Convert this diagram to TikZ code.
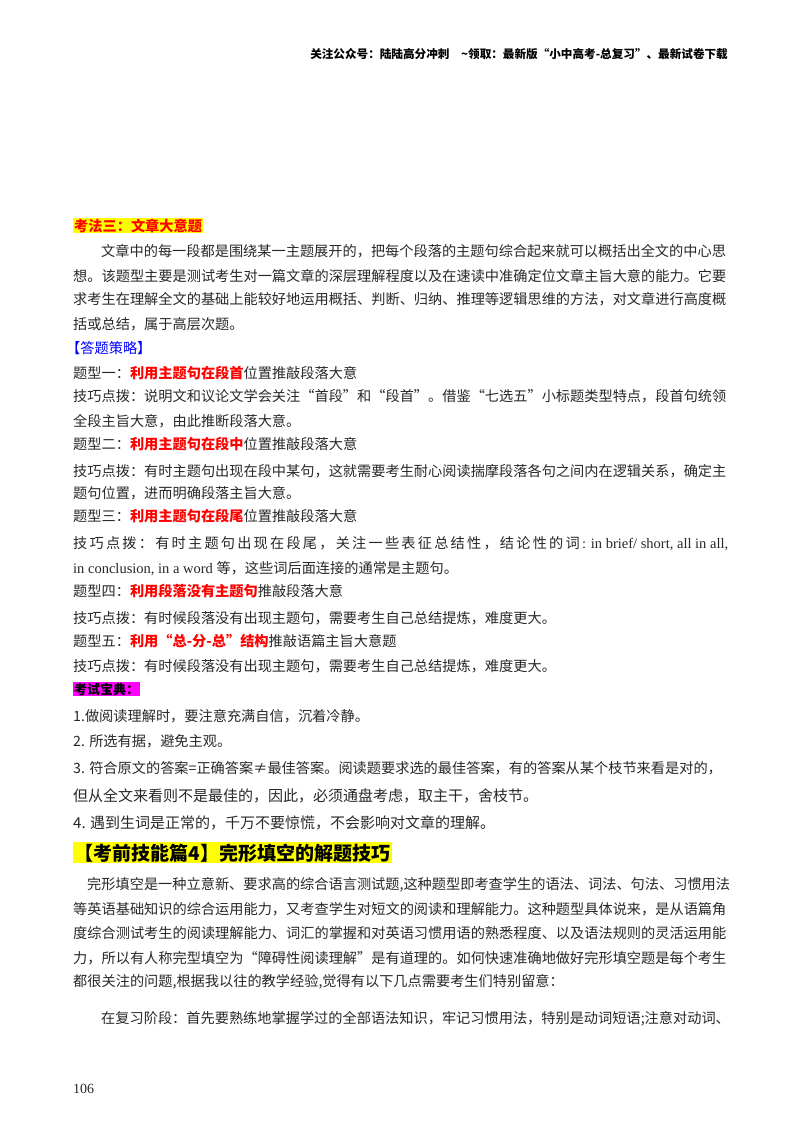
\documentclass[tikz,border=0pt]{standalone}
\usepackage{fontspec}
\setmainfont{Liberation Serif}
\newfontfamily\cjk{Noto Sans CJK SC}
\definecolor{hired}{RGB}{255,0,0}
\definecolor{hiyel}{RGB}{255,255,0}
\definecolor{himag}{RGB}{255,0,255}
\definecolor{hiblue}{RGB}{0,0,255}
\definecolor{txt}{RGB}{40,40,40}
\newcommand\R[1]{{\color{hired}\bfseries #1}}
\begin{document}
\begin{tikzpicture}[x=1pt,y=-1pt,
  body/.style={anchor=base west,inner sep=0pt,font=\cjk\fontsize{14.2}{16}\selectfont,text=txt},
  hdr/.style={anchor=base east,inner sep=0pt,font=\cjk\fontsize{11.6}{13}\selectfont\bfseries,text=black}]
\useasboundingbox[fill=white] (0,0) rectangle (800,1132);
\node[hdr] (h) at (728,59) {关注公众号：陆陆高分冲刺\quad\textasciitilde 领取：最新版“小中高考-总复习”、最新试卷下载};
\node[body,fill=hiyel,inner sep=1pt,text=hired,font=\cjk\fontsize{14.2}{16}\selectfont\bfseries] (k3) at (73,231) {考法三：文章大意题};
\node[body] (p1) at (101,256) {文章中的每一段都是围绕某一主题展开的，把每个段落的主题句综合起来就可以概括出全文的中心思};
\node[body] (p2) at (73,281) {想。该题型主要是测试考生对一篇文章的深层理解程度以及在速读中准确定位文章主旨大意的能力。它要};
\node[body] (p3) at (73,304) {求考生在理解全文的基础上能较好地运用概括、判断、归纳、推理等逻辑思维的方法，对文章进行高度概};
\node[body] (p4) at (73,329) {括或总结，属于高层次题。};
\node[body,text=hiblue] (cl) at (66,353) {【答题策略】};
\node[body] (t1) at (73,378) {题型一：\R{利用主题句在段首}位置推敲段落大意};
\node[body] (t1a) at (73,401) {技巧点拨：说明文和议论文学会关注“首段”和“段首”。借鉴“七选五”小标题类型特点，段首句统领};
\node[body] (t1b) at (73,426) {全段主旨大意，由此推断段落大意。};
\node[body] (t2) at (73,449) {题型二：\R{利用主题句在段中}位置推敲段落大意};
\node[body] (t2a) at (73,476) {技巧点拨：有时主题句出现在段中某句，这就需要考生耐心阅读揣摩段落各句之间内在逻辑关系，确定主};
\node[body] (t2b) at (73,498) {题句位置，进而明确段落主旨大意。};
\node[body] (t3) at (73,521) {题型三：\R{利用主题句在段尾}位置推敲段落大意};
\node[body] (t3a) at (73,548) {\hbox to 655pt{技\hfill 巧\hfill 点\hfill 拨\hfill ：\hfill 有\hfill 时\hfill 主\hfill 题\hfill 句\hfill 出\hfill 现\hfill 在\hfill 段\hfill 尾\hfill ，\hfill 关\hfill 注\hfill 一\hfill 些\hfill 表\hfill 征\hfill 总\hfill 结\hfill 性\hfill ，\hfill 结\hfill 论\hfill 性\hfill 的\hfill 词\hfill {\rmfamily\fontsize{14.5}{16}\selectfont : in brief/ short, all in all,}}};
\node[body] (t3b) at (73,573) {{\rmfamily\fontsize{14.5}{16}\selectfont in conclusion, in a word }等，这些词后面连接的通常是主题句。};
\node[body] (t4) at (73,596) {题型四：\R{利用段落没有主题句}推敲段落大意};
\node[body] (t4a) at (73,623) {技巧点拨：有时候段落没有出现主题句，需要考生自己总结提炼，难度更大。};
\node[body] (t5) at (73,646) {题型五：\R{利用“总-分-总”结构}推敲语篇主旨大意题};
\node[body] (t5a) at (73,671) {技巧点拨：有时候段落没有出现主题句，需要考生自己总结提炼，难度更大。};
\node[body,fill=himag,inner sep=1pt,text=black,font=\cjk\fontsize{13}{15}\selectfont\bfseries] (bd) at (73,694) {考试宝典：};
\node[body] (b1) at (73,721) {1.做阅读理解时，要注意充满自信，沉着冷静。};
\node[body] (b2) at (73,746) {2. 所选有据，避免主观。};
\node[body] (b3) at (73,773) {3. 符合原文的答案=正确答案≠最佳答案。阅读题要求选的最佳答案，有的答案从某个枝节来看是对的，};
\node[body,font=\cjk\fontsize{15}{17}\selectfont] (b3b) at (73,801) {但从全文来看则不是最佳的，因此，必须通盘考虑，取主干，舍枝节。};
\node[body,font=\cjk\fontsize{15}{17}\selectfont] (b4) at (73,828) {4. 遇到生词是正常的，千万不要惊慌，不会影响对文章的理解。};
\node[body,fill=hiyel,inner sep=1.5pt,text=black,font=\cjk\fontsize{19}{21}\selectfont\bfseries] (hd) at (73,860) {【考前技能篇4】完形填空的解题技巧};
\node[body] (c1) at (87,889) {完形填空是一种立意新、要求高的综合语言测试题,这种题型即考查学生的语法、词法、句法、习惯用法};
\node[body] (c2) at (73,914) {等英语基础知识的综合运用能力，又考查学生对短文的阅读和理解能力。这种题型具体说来，是从语篇角};
\node[body] (c3) at (73,938) {度综合测试考生的阅读理解能力、词汇的掌握和对英语习惯用语的熟悉程度、以及语法规则的灵活运用能};
\node[body] (c4) at (73,963) {力，所以有人称完型填空为“障碍性阅读理解”是有道理的。如何快速准确地做好完形填空题是每个考生};
\node[body] (c5) at (73,986) {都很关注的问题,根据我以往的教学经验,觉得有以下几点需要考生们特别留意：};
\node[body] (c6) at (101,1023) {在复习阶段：首先要熟练地掌握学过的全部语法知识，牢记习惯用法，特别是动词短语;注意对动词、};
\node[body,font=\rmfamily\fontsize{14}{16}\selectfont] (pg) at (73,1093) {106};
\end{tikzpicture}
\end{document}
